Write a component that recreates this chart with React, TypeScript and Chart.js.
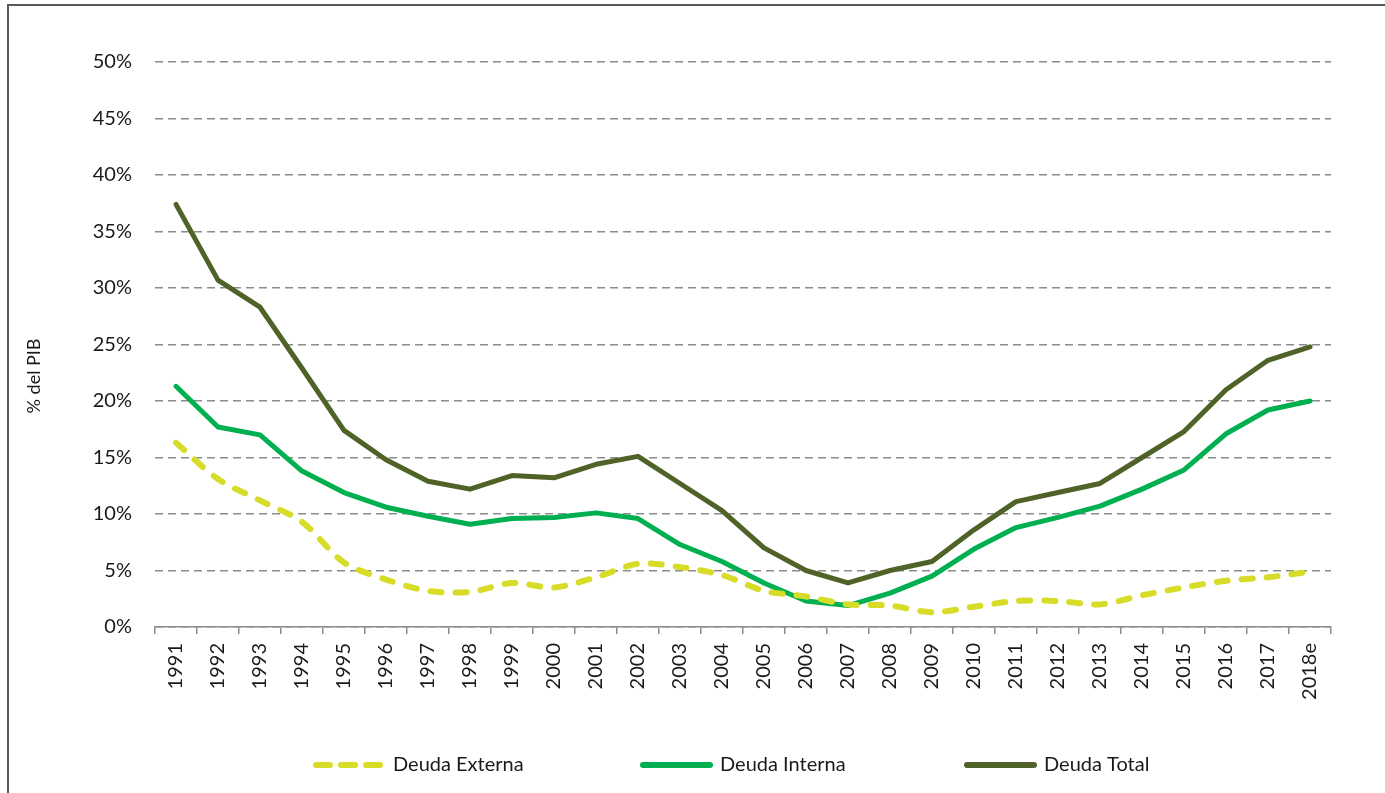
import React, { useEffect, useRef } from "react";
import { Chart, registerables } from "chart.js";

Chart.register(...registerables);

const years = ["1991","1992","1993","1994","1995","1996","1997","1998","1999","2000","2001","2002","2003","2004","2005","2006","2007","2008","2009","2010","2011","2012","2013","2014","2015","2016","2017","2018e"];

const deudaExterna = [16.3,13.1,11.2,9.3,5.7,4.2,3.2,3.1,3.9,3.5,4.4,5.6,5.3,4.6,3.2,2.7,2.0,1.9,1.3,1.8,2.3,2.3,2.0,2.8,3.5,4.1,4.4,4.9];
const deudaInterna = [21.3,17.7,17.0,13.8,11.9,10.6,9.8,9.1,9.6,9.7,10.1,9.6,7.3,5.8,3.9,2.3,1.9,3.0,4.5,6.9,8.8,9.7,10.7,12.2,13.9,17.1,19.2,20.0];
const deudaTotal = [37.4,30.7,28.3,22.9,17.4,14.8,12.9,12.2,13.4,13.2,14.4,15.1,12.7,10.3,7.0,5.0,3.9,5.0,5.8,8.6,11.1,11.9,12.7,15.0,17.3,21.0,23.6,24.8];

const yTicks = [0,5,10,15,20,25,30,35,40,45,50];
const yTitle = "% del PIB";

const FONT = "Lato, 'Open Sans', sans-serif";
const TEXT = "#1a1a1a";

const framePlugin = {
  id: "frame",
  beforeDraw(chart: any) {
    const ctx = chart.ctx;
    ctx.save();
    ctx.fillStyle = "#ffffff";
    ctx.fillRect(0, 0, chart.width, chart.height);
    ctx.strokeStyle = "#595959";
    ctx.lineWidth = 2;
    ctx.strokeRect(8, 5, chart.width + 50, chart.height + 50);
    ctx.restore();
  },
  afterDraw(chart: any) {
    const ctx = chart.ctx;
    ctx.save();
    ctx.translate(34, 376);
    ctx.rotate(-Math.PI / 2);
    ctx.fillStyle = TEXT;
    ctx.font = `18px ${FONT}`;
    ctx.textAlign = "center";
    ctx.textBaseline = "middle";
    ctx.fillText(yTitle, 0, 0);
    ctx.restore();

    const ds = chart.data.datasets;
    const y = 765;
    const starts = [313, 640, 964];
    ctx.save();
    ctx.font = `20px ${FONT}`;
    ctx.textBaseline = "middle";
    ctx.textAlign = "left";
    ds.forEach((d: any, i: number) => {
      const x0 = starts[i];
      ctx.beginPath();
      ctx.strokeStyle = d.borderColor;
      ctx.lineWidth = 6;
      ctx.lineCap = "round";
      if (d.borderDash && d.borderDash.length) {
        ctx.setLineDash([14, 11]);
      } else {
        ctx.setLineDash([]);
      }
      ctx.moveTo(x0 + 3, y);
      ctx.lineTo(x0 + 70, y);
      ctx.stroke();
      ctx.setLineDash([]);
      ctx.fillStyle = TEXT;
      ctx.fillText(d.label, x0 + 80, y);
    });
    ctx.restore();
  },
};

export default function App() {
  const ref = useRef<HTMLCanvasElement | null>(null);
  useEffect(() => {
    if (!ref.current) return;
    const chart = new Chart(ref.current, {
      type: "line",
      data: {
        labels: years,
        datasets: [
          {
            label: "Deuda Externa",
            data: deudaExterna,
            borderColor: "#D6DC28",
            backgroundColor: "#D6DC28",
            borderWidth: 6,
            borderDash: [11, 14],
            borderCapStyle: "round",
            tension: 0.3,
            pointRadius: 0,
          },
          {
            label: "Deuda Interna",
            data: deudaInterna,
            borderColor: "#00B050",
            backgroundColor: "#00B050",
            borderWidth: 5,
            borderCapStyle: "round",
            borderJoinStyle: "round",
            tension: 0,
            pointRadius: 0,
          },
          {
            label: "Deuda Total",
            data: deudaTotal,
            borderColor: "#4F6228",
            backgroundColor: "#4F6228",
            borderWidth: 5,
            borderCapStyle: "round",
            borderJoinStyle: "round",
            tension: 0,
            pointRadius: 0,
          },
        ],
      },
      options: {
        animation: false,
        responsive: true,
        maintainAspectRatio: false,
        layout: { padding: { top: 62, right: 54, bottom: 0, left: 0 } },
        plugins: {
          legend: { display: false },
          tooltip: { enabled: false },
          title: { display: false },
        },
        scales: {
          x: {
            type: "category",
            offset: true,
            grid: {
              offset: true,
              drawOnChartArea: false,
              drawTicks: true,
              tickLength: 7,
              color: "#8c8c8c",
              lineWidth: 1.5,
            },
            border: { display: true, color: "#8c8c8c", width: 1.5 },
            ticks: {
              autoSkip: false,
              maxRotation: 90,
              minRotation: 90,
              padding: 9,
              color: TEXT,
              font: { family: FONT, size: 20 },
            },
            afterFit: (scale: any) => {
              scale.height = 166;
            },
          },
          y: {
            min: 0,
            max: 50,
            afterBuildTicks: (scale: any) => {
              scale.ticks = yTicks.map((v) => ({ value: v }));
            },
            grid: {
              drawTicks: false,
              color: "#8c8c8c",
              lineWidth: 1.5,
            },
            border: { display: false, dash: [8, 5] },
            ticks: {
              padding: 23,
              color: TEXT,
              font: { family: FONT, size: 20 },
              callback: (v: any) => `${v}%`,
            },
            afterFit: (scale: any) => {
              scale.width = 155;
            },
          },
        },
      },
      plugins: [framePlugin],
    });
    return () => chart.destroy();
  }, []);
  return (
    <div style={{ position: "absolute", left: 0, top: 0, width: 1385, height: 793, overflow: "hidden" }}>
      <canvas ref={ref} />
    </div>
  );
}
